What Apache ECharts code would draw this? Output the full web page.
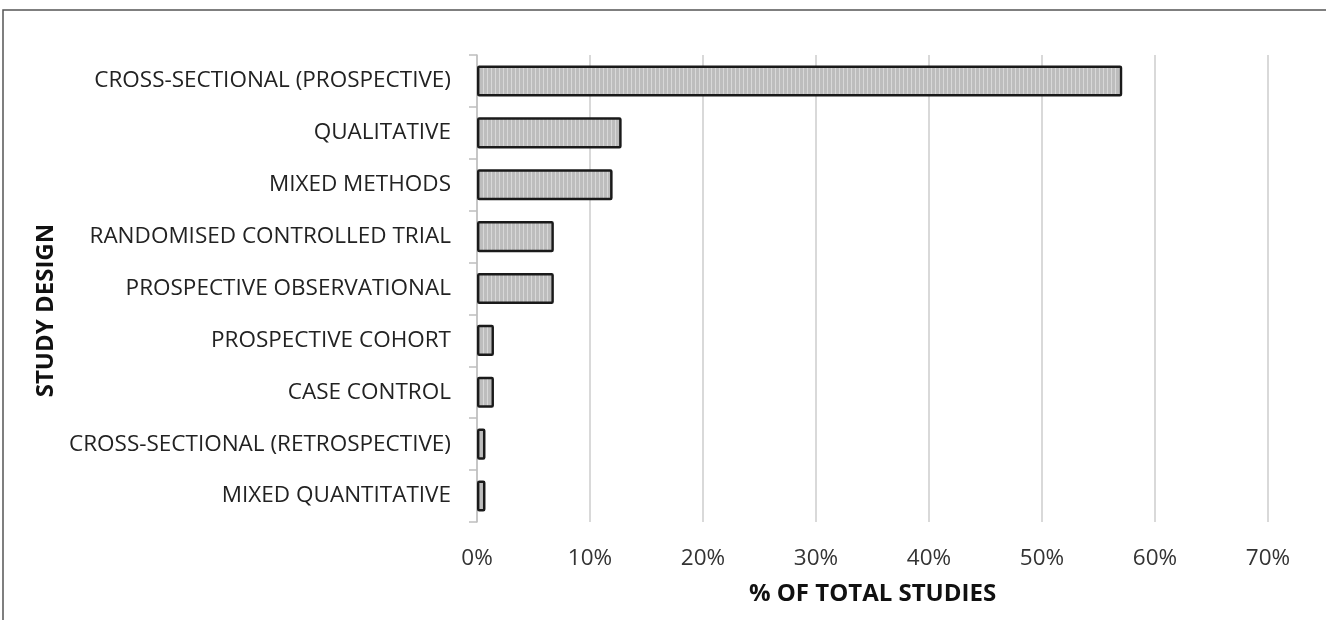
<!DOCTYPE html>
<html><head><meta charset="utf-8">
<script src="https://cdn.jsdelivr.net/npm/echarts@6/dist/echarts.min.js"></script>
<style>html,body{margin:0;padding:0;background:#fff}#c{width:1326px;height:620px}</style>
</head><body><div id="c"></div>
<script>
const categories = ["CROSS-SECTIONAL (PROSPECTIVE)","QUALITATIVE","MIXED METHODS","RANDOMISED CONTROLLED TRIAL","PROSPECTIVE OBSERVATIONAL","PROSPECTIVE COHORT","CASE CONTROL","CROSS-SECTIONAL (RETROSPECTIVE)","MIXED QUANTITATIVE"];
const percentValues = [57.1, 12.8, 12.0, 6.8, 6.8, 1.5, 1.5, 0.75, 0.75];
const xTicks = [0,10,20,30,40,50,60,70];

const pc = document.createElement('canvas');
pc.width = 4; pc.height = 4;
const g = pc.getContext('2d');
g.fillStyle = '#bdbdbd'; g.fillRect(0,0,4,4);
g.fillStyle = '#d8d8d8'; g.fillRect(3,0,1,4);

const chart = echarts.init(document.getElementById('c'));
const font = '"Open Sans", sans-serif';
chart.setOption({
  animation:false,
  grid:{left:477,right:58,top:55,bottom:98},
  graphic:[{type:'rect',shape:{x:3,y:10,width:1400,height:700},style:{fill:'none',stroke:'#555',lineWidth:1.5},silent:true}],
  xAxis:{type:'value',min:xTicks[0],max:xTicks[xTicks.length-1],interval:10,
    axisLine:{show:false},axisTick:{show:false},
    splitLine:{lineStyle:{color:'#d9d9d9',width:2}},
    axisLabel:{formatter:v=>v+'%',fontFamily:font,fontSize:22.5,color:'#333',margin:25},
    name:'% OF TOTAL STUDIES',nameLocation:'middle',nameGap:60,
    nameTextStyle:{fontFamily:font,fontSize:24,fontWeight:'bold',color:'#111'}},
  yAxis:{type:'category',data:categories,inverse:true,
    axisLine:{show:true,lineStyle:{color:'#bfbfbf',width:1.5}},
    axisTick:{show:true,length:8,lineStyle:{color:'#bfbfbf',width:1.5}},
    axisLabel:{fontFamily:font,fontSize:22.5,color:'#222',margin:26},
    name:'STUDY DESIGN',nameLocation:'middle',nameGap:373,nameRotate:90,
    nameTextStyle:{fontFamily:font,fontSize:24,fontWeight:'bold',color:'#111',padding:[0,44,0,0]}},
  series:[{type:'bar',data:percentValues,barCategoryGap:'40%',
    itemStyle:{color:{image:pc,repeat:'repeat'},borderColor:'#1a1a1a',borderWidth:2.5,borderRadius:1}}]
});
</script></body></html>
